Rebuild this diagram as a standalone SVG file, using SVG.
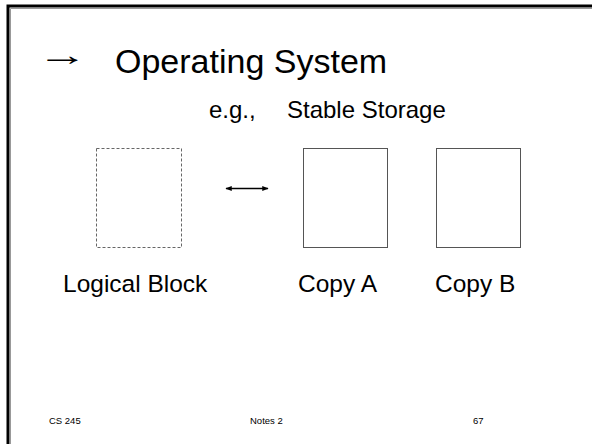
<svg xmlns="http://www.w3.org/2000/svg" width="592" height="444" viewBox="0 0 592 444">
<defs>
<style>
.t{font-family:"Liberation Sans",Arial,sans-serif;fill:#000}
.box{fill:#fff;stroke:#555;stroke-width:1}
.dash{fill:#fff;stroke:#666;stroke-width:1;stroke-dasharray:3 2}
.ft{font-family:"Liberation Sans",Arial,sans-serif;font-size:9.5px;fill:#000}
</style>
<marker id="ah" viewBox="0 0 10 10" refX="9" refY="5" markerWidth="4" markerHeight="4" orient="auto-start-reverse"><path d="M0,1 L10,5 L0,9 z" fill="#000"/></marker>
</defs>
<rect width="592" height="444" fill="#fff"/>
<path d="M8,444 V6 H592" fill="none" stroke="#000" stroke-width="3"/>
<path d="M10.5,444 V8.5 H592" fill="none" stroke="#999" stroke-width="1"/>
<g id="title">
<text transform="translate(37,65) scale(1.7,1)" font-family="'Liberation Serif',serif" font-size="30">→</text>
<text class="t" x="115" y="73" font-size="34">Operating System</text>
<text class="t" x="209" y="118" font-size="24"><tspan>e.g.,</tspan><tspan x="287">Stable Storage</tspan></text>
</g>
<g id="logical-block">
<rect class="dash" x="96.5" y="148.5" width="85" height="99"/>
<text class="t" x="63" y="292" font-size="24.5">Logical Block</text>
</g>
<g id="copy-a">
<rect class="box" x="303.5" y="148.5" width="84" height="99"/>
<text class="t" x="298" y="292" font-size="24.5">Copy A</text>
</g>
<g id="copy-b">
<rect class="box" x="436.5" y="148.5" width="84" height="99"/>
<text class="t" x="435" y="292" font-size="24.5">Copy B</text>
</g>
<g id="connectors">
<line x1="226" y1="188.5" x2="268" y2="188.5" stroke="#000" stroke-width="1.6" marker-start="url(#ah)" marker-end="url(#ah)"/>
</g>
<g id="footer">
<text class="ft" x="49" y="424">CS 245</text>
<text class="ft" x="250" y="424">Notes 2</text>
<text class="ft" x="473" y="424">67</text>
</g>
</svg>
